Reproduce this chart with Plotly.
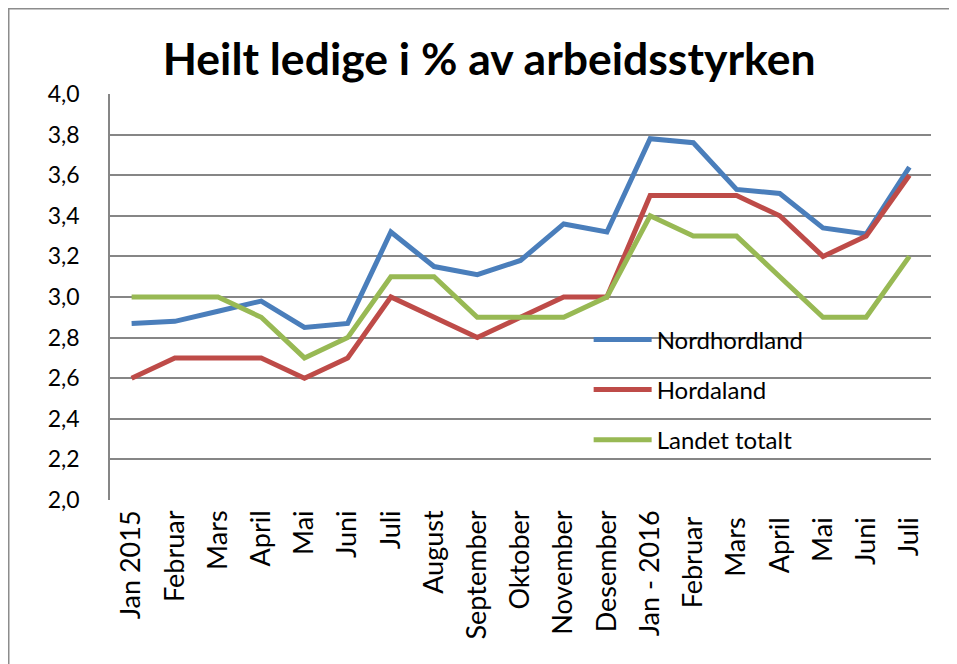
import plotly.graph_objects as go

categories = ["Jan 2015", "Februar", "Mars", "April", "Mai", "Juni", "Juli", "August",
              "September", "Oktober", "November", "Desember", "Jan - 2016", "Februar ",
              "Mars ", "April ", "Mai ", "Juni ", "Juli "]
nordhordland = [2.87, 2.88, 2.93, 2.98, 2.85, 2.87, 3.32, 3.15, 3.11, 3.18, 3.36, 3.32,
                3.78, 3.76, 3.53, 3.51, 3.34, 3.31, 3.64]
hordaland = [2.6, 2.7, 2.7, 2.7, 2.6, 2.7, 3.0, 2.9, 2.8, 2.9, 3.0, 3.0,
             3.5, 3.5, 3.5, 3.4, 3.2, 3.3, 3.6]
landet = [3.0, 3.0, 3.0, 2.9, 2.7, 2.8, 3.1, 3.1, 2.9, 2.9, 2.9, 3.0,
          3.4, 3.3, 3.3, 3.1, 2.9, 2.9, 3.2]
y_ticks = [2.0, 2.2, 2.4, 2.6, 2.8, 3.0, 3.2, 3.4, 3.6, 3.8, 4.0]

FONT = "Lato"
fig = go.Figure()
series = [("Nordhordland", nordhordland, "#4A7EBB"),
          ("Hordaland", hordaland, "#BE4B48"),
          ("Landet totalt", landet, "#98B954")]
for name, vals, col in series:
    fig.add_trace(go.Scatter(x=categories, y=vals, name=name, mode="lines",
                             line=dict(color=col, width=5), legendgroup=name))

W, H = 949, 656
L, T, R, B = 102, 86, 26, 164
PW, PH = W - L - R, H - T - B

fig.update_layout(
    width=W, height=H,
    margin=dict(l=L, r=R, t=T, b=B),
    paper_bgcolor="white", plot_bgcolor="white",
    separators=", ",
    font=dict(family=FONT, size=23, color="black"),
    title=dict(text="<b>Heilt ledige i % av arbeidsstyrken</b>",
               font=dict(family=FONT, size=44.5, color="black"),
               x=0.507, xanchor="center", y=0.921, yanchor="middle"),
    showlegend=True,
    legend=dict(x=0.583, y=0.45, xanchor="left", yanchor="top",
                bgcolor="rgba(0,0,0,0)", font=dict(family=FONT, size=24),
                tracegroupgap=16, itemwidth=58),
    xaxis=dict(type="category", tickangle=-90, showgrid=False, showline=False,
               ticks="", tickfont=dict(family=FONT, size=27), range=[-0.5, 18.5],
               ticklabelstandoff=4),
    yaxis=dict(range=[2.0, 4.0], tickvals=y_ticks, tickformat=".1f",
               showgrid=True, gridcolor="#868686", gridwidth=1.5,
               showline=True, linecolor="#868686", linewidth=1.5,
               zeroline=False, ticks="", ticklabelstandoff=24,
               tickfont=dict(family=FONT, size=23)),
    shapes=[dict(type="rect", xref="paper", yref="paper",
                 x0=(0.75 - L) / PW, x1=(1000 - L) / PW,
                 y0=(T + PH - 720) / PH, y1=(T + PH - 0.75) / PH,
                 line=dict(color="#8c8c8c", width=1.5), fillcolor="rgba(0,0,0,0)")],
)
fig.write_html("out.html")
